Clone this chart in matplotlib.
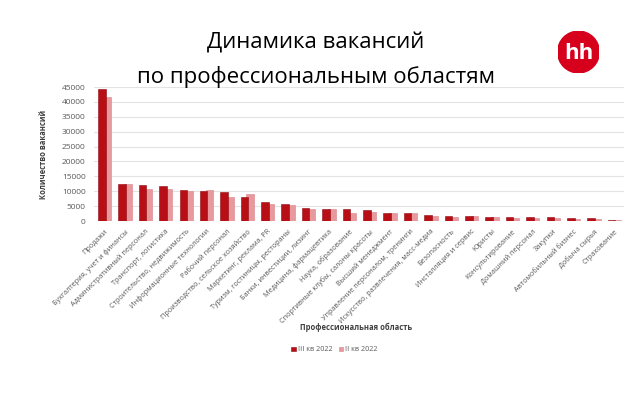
import numpy as np
import matplotlib.pyplot as plt
from matplotlib.patches import Circle

# профессиональные области
areas = ['Продажи', 'Бухгалтерия, учет и финансы', 'Административный персонал',
         'Транспорт, логистика', 'Строительство, недвижимость',
         'Информационные технологии', 'Рабочий персонал',
         'Производство, сельское хозяйство', 'Маркетинг, реклама, PR',
         'Туризм, гостиницы, рестораны', 'Банки, инвестиции, лизинг',
         'Медицина, фармацевтика', 'Наука, образование',
         'Спортивные клубы, салоны красоты', 'Высший менеджмент',
         'Управление персоналом, тренинги', 'Искусство, развлечения, масс-медиа',
         'Безопасность', 'Инсталляция и сервис', 'Юристы', 'Консультирование',
         'Домашний персонал', 'Закупки', 'Автомобильный бизнес', 'Добыча сырья',
         'Страхование']

# III кв 2022
q3 = [44500, 12300, 12000, 11700, 10300, 10000, 9600, 8000, 6400, 5700, 4500,
      4100, 4000, 3600, 2800, 2700, 2000, 1800, 1800, 1450, 1450, 1400, 1300,
      950, 1050, 350]
# II кв 2022
q2 = [41500, 12300, 10800, 10600, 10100, 10300, 8000, 9000, 5800, 5400, 4200,
      3900, 2700, 3000, 2600, 2600, 1800, 1500, 1650, 1250, 1150, 1050, 1050,
      750, 850, 250]

labels = ['III кв 2022', 'II кв 2022']
dark = '#B80F16'
light = '#E8999D'
grey = '#595959'

plt.rcParams['font.family'] = ['Open Sans', 'DejaVu Sans']

fig = plt.figure(figsize=(6.35, 3.94), dpi=100)
ax = fig.add_axes([0.148, 0.439, 0.835, 0.34])

x = np.arange(len(areas))
b2 = ax.bar(x + 0.16, q2, width=0.37, color=light, edgecolor='#D9838A',
            linewidth=0.4, zorder=2, label=labels[1])
b3 = ax.bar(x - 0.12, q3, width=0.37, color=dark, edgecolor='#8E0A10',
            linewidth=0.4, zorder=3, label=labels[0])

ax.set_xlim(-0.5, len(areas) - 0.5)
ax.set_ylim(0, 45000)
ax.set_yticks(np.arange(0, 45001, 5000))
ax.yaxis.grid(True, color='#E3E3E3', linewidth=0.8, zorder=0)
ax.set_axisbelow(True)
for s in ax.spines.values():
    s.set_visible(False)
ax.tick_params(axis='both', length=0, colors=grey, labelsize=6)
ax.tick_params(axis='y', pad=6)
ax.tick_params(axis='x', pad=5)
ax.set_xticks(x)
ax.set_xticklabels(areas, rotation=45, ha='right', rotation_mode='anchor',
                   fontsize=5.2, color=grey)

ax.set_ylabel('Количество вакансий', fontsize=5.5, fontweight='bold',
              color='#404040', labelpad=10)
fig.text(0.56, 0.17, 'Профессиональная область', ha='center', va='center',
         fontsize=5.5, fontweight='bold', color='#404040')

fig.legend([b3, b2], labels, loc='center', bbox_to_anchor=(0.527, 0.112),
           ncol=2, frameon=False, fontsize=5.2, handlelength=0.6,
           handleheight=0.6, handletextpad=0.3, columnspacing=0.9,
           labelcolor=grey)

# заголовок
fig.text(0.497, 0.89, 'Динамика вакансий', ha='center', va='center',
         fontsize=16, color='black')
fig.text(0.497, 0.805, 'по профессиональным областям', ha='center',
         va='center', fontsize=16, color='black')

# логотип hh
logo = fig.add_axes([0.878, 0.815, 0.066, 0.106])
logo.set_xlim(-1, 1)
logo.set_ylim(-1, 1)
logo.set_aspect('equal')
logo.axis('off')
logo.add_patch(Circle((0, 0), 1, color='#D6001C'))
logo.text(0, -0.05, 'hh', ha='center', va='center', color='white',
          fontsize=16, fontweight='bold')

fig.savefig('out.png', dpi=100)
